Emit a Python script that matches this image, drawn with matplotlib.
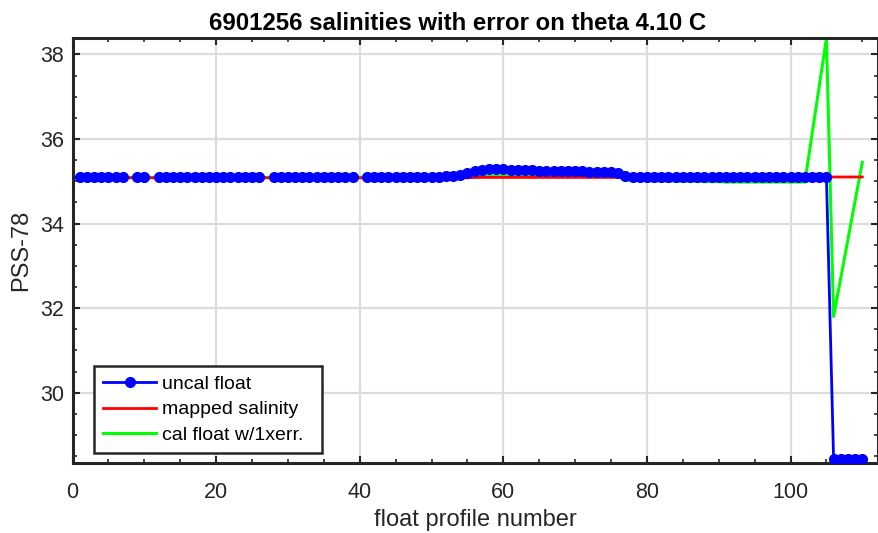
import matplotlib
matplotlib.use("Agg")
import matplotlib.pyplot as plt
import numpy as np
from matplotlib.ticker import MultipleLocator

# uncal float salinity per profile (NaN = missing profile)
uncal_profiles = list(range(1, 111))
uncal_sal = (
    [35.09] * 7 + [np.nan] + [35.09] * 2 + [np.nan]              # 1-11
    + [35.09] * 15 + [np.nan] + [35.09] * 12 + [np.nan]          # 12-40
    + [35.09, 35.09, 35.09, 35.09, 35.09, 35.09, 35.10, 35.10,   # 41-48
       35.10, 35.11, 35.11, 35.12, 35.13, 35.15, 35.19, 35.23,   # 49-56
       35.26, 35.28, 35.28, 35.28, 35.27, 35.27, 35.26, 35.26,   # 57-64
       35.25, 35.25, 35.25, 35.24, 35.24, 35.23, 35.23, 35.22,   # 65-72
       35.22, 35.21, 35.21, 35.20, 35.12]                        # 73-77
    + [35.11] * 28                                               # 78-105
    + [28.42] * 5                                                # 106-110
)

# mapped salinity
mapped_profiles = list(range(1, 111))
mapped_sal = [35.08] * 55 + [35.09] * 25 + [35.10] * 30

# calibrated float (1x error)
cal_profiles = list(range(1, 103)) + [105, 106, 110]
cal_sal = (
    [35.09] * 55
    + [35.10, 35.11, 35.12, 35.12, 35.12, 35.12, 35.12, 35.12,   # 56-63
       35.12, 35.12, 35.12, 35.12, 35.12, 35.12, 35.12, 35.12,   # 64-71
       35.12, 35.12, 35.12, 35.12, 35.12, 35.03]                 # 72-77
    + [35.02, 35.02, 35.01, 35.01, 35.01, 35.00, 35.00, 35.00,   # 78-85
       35.00, 35.00, 34.99, 34.99, 34.99, 34.98, 34.98, 34.98,   # 86-93
       34.98, 34.98, 34.98, 34.98, 34.98, 34.98, 34.98, 34.98,   # 94-101
       34.98]                                                    # 102
    + [38.38, 31.80, 35.45]                                      # 105, 106, 110
)

plt.rcParams["font.family"] = ["Liberation Sans", "DejaVu Sans"]
INK = "#262626"

fig = plt.figure(figsize=(8.79, 5.33), dpi=100)
ax = fig.add_axes([0.0825, 0.132, 0.9165, 0.796])

ax.plot(uncal_profiles, uncal_sal, "-o", color="#0000ff", lw=2.0, ms=7,
        label="uncal float", zorder=3)
ax.plot(mapped_profiles, mapped_sal, "-", color="#ff0000", lw=2.0,
        label="mapped salinity", zorder=2)
ax.plot(cal_profiles, cal_sal, "-", color="#00ff00", lw=2.2,
        label="cal float w/1xerr.", zorder=1)

ax.set_xlim(0, 112.2)
ax.set_ylim(28.345, 38.378)
ax.xaxis.set_major_locator(MultipleLocator(20))
ax.xaxis.set_minor_locator(MultipleLocator(5))
ax.yaxis.set_major_locator(MultipleLocator(2))
ax.yaxis.set_minor_locator(MultipleLocator(0.5))
ax.tick_params(which="both", direction="in", top=True, right=True,
               labelsize=15.5, colors=INK, labelcolor=INK)
ax.tick_params(axis="x", which="major", pad=14)
ax.tick_params(axis="y", which="major", pad=6)
ax.tick_params(which="major", length=5, width=1.5)
ax.tick_params(which="minor", length=3, width=1.2)
ax.grid(True, which="major", color="#dcdcdc", lw=1.6, zorder=0)
ax.set_axisbelow(True)
for sp in ax.spines.values():
    sp.set_linewidth(2.2)
    sp.set_color(INK)

ax.set_title("6901256 salinities with error on theta 4.10 C",
             fontsize=17.3, fontweight="bold", pad=6, x=0.478)
ax.set_xlabel("float profile number", fontsize=17, color=INK, labelpad=4)
ax.set_ylabel("PSS-78", fontsize=17, color=INK, labelpad=6)

leg = ax.legend(loc="lower left", bbox_to_anchor=(0.0267, 0.023, 0.2827, 0.2),
                mode="expand", fontsize=14, fancybox=False, framealpha=1,
                edgecolor=INK, handlelength=2.75, handletextpad=0.3,
                borderpad=0.45, labelspacing=0.42, borderaxespad=0)
leg.get_frame().set_linewidth(1.8)

fig.savefig("out.png", dpi=100)
